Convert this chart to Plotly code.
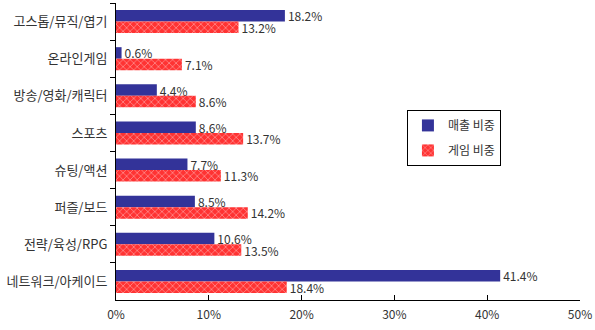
import plotly.graph_objects as go

categories = ["고스톱/뮤직/엽기", "온라인게임", "방송/영화/캐릭터", "스포츠",
              "슈팅/액션", "퍼즐/보드", "전략/육성/RPG", "네트워크/아케이드"]
sales_share = [18.2, 0.6, 4.4, 8.6, 7.7, 8.5, 10.6, 41.4]
game_share = [13.2, 7.1, 8.6, 13.7, 11.3, 14.2, 13.5, 18.4]
x_ticks = [0, 10, 20, 30, 40, 50]
x_tick_labels = ["0%", "10%", "20%", "30%", "40%", "50%"]

FONT = "Noto Sans CJK KR, Gulim, sans-serif"
TXT = "#333333"

fig = go.Figure()
fig.add_trace(go.Bar(
    y=categories, x=sales_share, orientation="h", name="매출 비중",
    marker=dict(color="#333399", line=dict(width=0)),
    text=[f"{v:.1f}%" for v in sales_share], textposition="outside",
    constraintext="none",
    textfont=dict(size=12, color=TXT, family=FONT),
    cliponaxis=False, legendgroup="a",
))
fig.add_trace(go.Bar(
    y=categories, x=game_share, orientation="h", name="게임 비중",
    marker=dict(color="#FF3333", line=dict(width=0),
                pattern=dict(shape="x", fgcolor="white", size=5, solidity=0.25)),
    text=[f"{v:.1f}%" for v in game_share], textposition="outside",
    constraintext="none",
    textfont=dict(size=12, color=TXT, family=FONT),
    cliponaxis=False, legendgroup="b",
))

fig.update_layout(
    width=595, height=330,
    margin=dict(l=116, r=13, t=3, b=30),
    paper_bgcolor="white", plot_bgcolor="white",
    barmode="group", bargap=0.38, bargroupgap=0,
    font=dict(family=FONT, size=12, color=TXT),
    showlegend=True,
    legend=dict(x=0.627, y=0.64, xanchor="left", yanchor="top",
                bordercolor="black", borderwidth=1, bgcolor="white",
                tracegroupgap=6, font=dict(size=12, color=TXT),
                itemwidth=30),
)
fig.update_xaxes(
    range=[0, 50], tickvals=x_ticks, ticktext=x_tick_labels,
    showgrid=False, zeroline=False, showline=True, linecolor="black",
    linewidth=1, ticks="inside", ticklen=5, tickcolor="black",
    ticklabelstandoff=4,
    tickfont=dict(size=12, color=TXT), fixedrange=True,
)
fig.update_yaxes(
    categoryorder="array", categoryarray=categories, autorange="reversed",
    showgrid=False, showline=True, linecolor="black", linewidth=1,
    ticks="outside", tickson="boundaries", ticklen=5, tickcolor="black",
    ticklabelstandoff=5,
    tickfont=dict(size=13, color=TXT), fixedrange=True,
)

fig.write_html("out.html")
